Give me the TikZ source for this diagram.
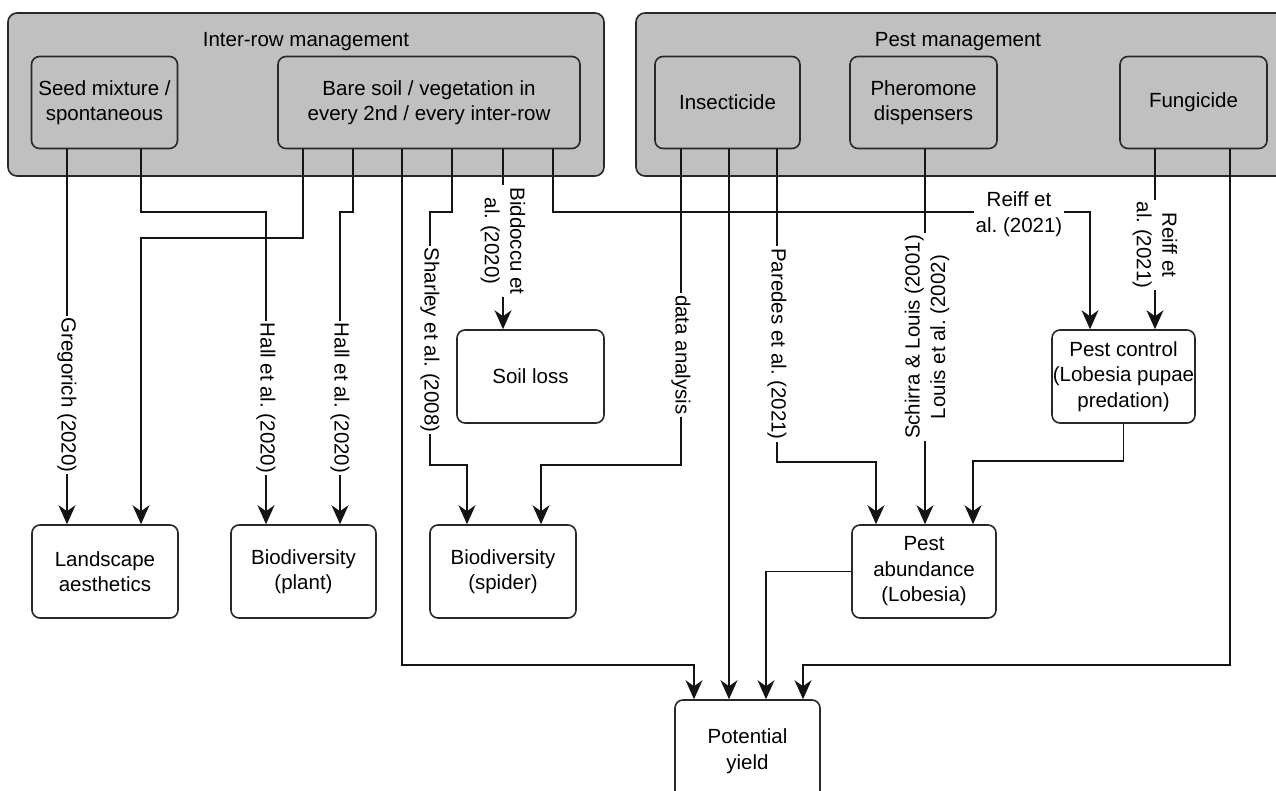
\documentclass[tikz,border=0pt]{standalone}
\usepackage{fontspec}
\setmainfont{Liberation Sans}
\usetikzlibrary{arrows.meta}
\definecolor{grayf}{RGB}{192,192,192}
\definecolor{bord}{RGB}{40,40,40}
\definecolor{lin}{RGB}{20,20,20}
\newcommand\myfs{\fontsize{20.5}{25.5}\selectfont\frenchspacing}
\tikzset{
 grp/.style={draw=bord, fill=grayf, rounded corners=9pt, line width=1.6pt},
 ibox/.style={draw=bord, fill=grayf, rounded corners=8pt, line width=1.6pt, align=center, inner sep=0pt},
 wbox/.style={draw=bord, fill=white, rounded corners=8pt, line width=1.6pt, align=center, inner sep=0pt},
 conn/.style={draw=lin, line width=1.5pt, -{Stealth[length=19pt,width=17pt,inset=6pt]}},
 lbl/.style={fill=white, inner sep=2pt, align=center},
}
\begin{document}
\begin{tikzpicture}[x=1pt,y=-1pt,font=\myfs]
\clip (0,0) rectangle (1276,790);
\fill[white] (0,0) rectangle (1276,790);
% groups
\node[grp, minimum width=596pt, minimum height=163pt] (irg) at (306,94.5) {};
\node[grp, minimum width=660pt, minimum height=163pt] (pmg) at (966,94.5) {};
\node (irgl) at (306,42) {Inter-row management};
\node (pmgl) at (958,42) {Pest management};
% management boxes
\node[ibox, minimum width=146pt, minimum height=92pt] (seed) at (104.5,102.5) {Seed mixture /\\spontaneous};
\node[ibox, minimum width=302pt, minimum height=92pt] (bare) at (429,102.5) {Bare soil / vegetation in\\every 2nd / every inter-row};
\node[ibox, minimum width=145pt, minimum height=92pt] (insect) at (727.5,102.5) {Insecticide};
\node[ibox, minimum width=147pt, minimum height=92pt] (pher) at (923.5,102.5) {Pheromone\\dispensers};
\node[ibox, minimum width=147pt, minimum height=92pt] (fung) at (1193.5,102.5) {Fungicide};
% outcome boxes
\node[wbox, minimum width=146pt, minimum height=93pt] (land) at (105,571.5) {Landscape\\aesthetics};
\node[wbox, minimum width=145pt, minimum height=93pt] (plant) at (303.5,571.5) {Biodiversity\\(plant)};
\node[wbox, minimum width=146pt, minimum height=93pt] (spider) at (503,571.5) {Biodiversity\\(spider)};
\node[wbox, minimum width=147pt, minimum height=93pt] (soil) at (530.5,376.5) {Soil loss};
\node[wbox, minimum width=143pt, minimum height=93pt] (pestc) at (1123.5,376.5) {Pest control\\(Lobesia pupae\\predation)};
\node[wbox, minimum width=144pt, minimum height=93pt] (pesta) at (924,571.5) {Pest\\abundance\\(Lobesia)};
\node[wbox, minimum width=145pt, minimum height=102pt] (yield) at (747.5,751) {Potential\\yield};
% connectors
\draw[conn] (seed.south -| 67,0) -- (land.north -| 67,0);
\draw[conn] (seed.south -| 141,0) |- (266,212) -- (plant.north -| 266,0);
\draw[conn] (bare.south -| 303,0) |- (141,238) -- (land.north -| 141,0);
\draw[conn] (bare.south -| 353,0) |- (340,212) -- (plant.north -| 340,0);
\draw[conn] (bare.south -| 402,0) |- (694,665) -- (yield.north -| 694,0);
\draw[conn] (bare.south -| 452,0) |- (430,212) |- (467,465) -- (spider.north -| 467,0);
\draw[conn] (bare.south -| 503,0) -- (soil.north -| 503,0);
\draw[conn] (bare.south -| 553,0) |- (1090,212) -- (pestc.north -| 1090,0);
\draw[conn] (insect.south -| 681,0) |- (541,465) -- (spider.north -| 541,0);
\draw[conn] (insect.south -| 729,0) -- (yield.north -| 729,0);
\draw[conn] (insect.south -| 777,0) |- (876,462) -- (pesta.north -| 876,0);
\draw[conn] (pher.south -| 925,0) -- (pesta.north -| 925,0);
\draw[conn] (fung.south -| 1155,0) -- (pestc.north -| 1155,0);
\draw[conn] (fung.south -| 1230,0) |- (803,665) -- (yield.north -| 803,0);
\draw[conn] (pestc.south) |- (973,461) -- (pesta.north -| 973,0);
\draw[conn] (pesta.west) -| (yield.north -| 766,0);
% labels
\node[lbl, rotate=-90] (l1) at (67,395) {Gregorich (2020)};
\node[lbl, rotate=-90] (l2) at (266,398) {Hall et al. (2020)};
\node[lbl, rotate=-90] (l3) at (340,398) {Hall et al. (2020)};
\node[lbl, rotate=-90] (l4) at (430,340) {Sharley et al. (2008)};
\node[lbl, rotate=-90] (l5) at (503,241) {Biddoccu et\\al. (2020)};
\node[lbl] (l6) at (1019,214) {Reiff et\\al. (2021)};
\node[lbl, rotate=-90] (l7) at (681,355) {data analysis};
\node[lbl, rotate=-90] (l8) at (777,344) {Paredes et al. (2021)};
\node[lbl, rotate=90] (l9) at (927,337) {Schirra \& Louis (2001)\\Louis et al. (2002)};
\node[lbl, rotate=-90] (l10) at (1155,245) {Reiff et\\al. (2021)};
\end{tikzpicture}
\end{document}
